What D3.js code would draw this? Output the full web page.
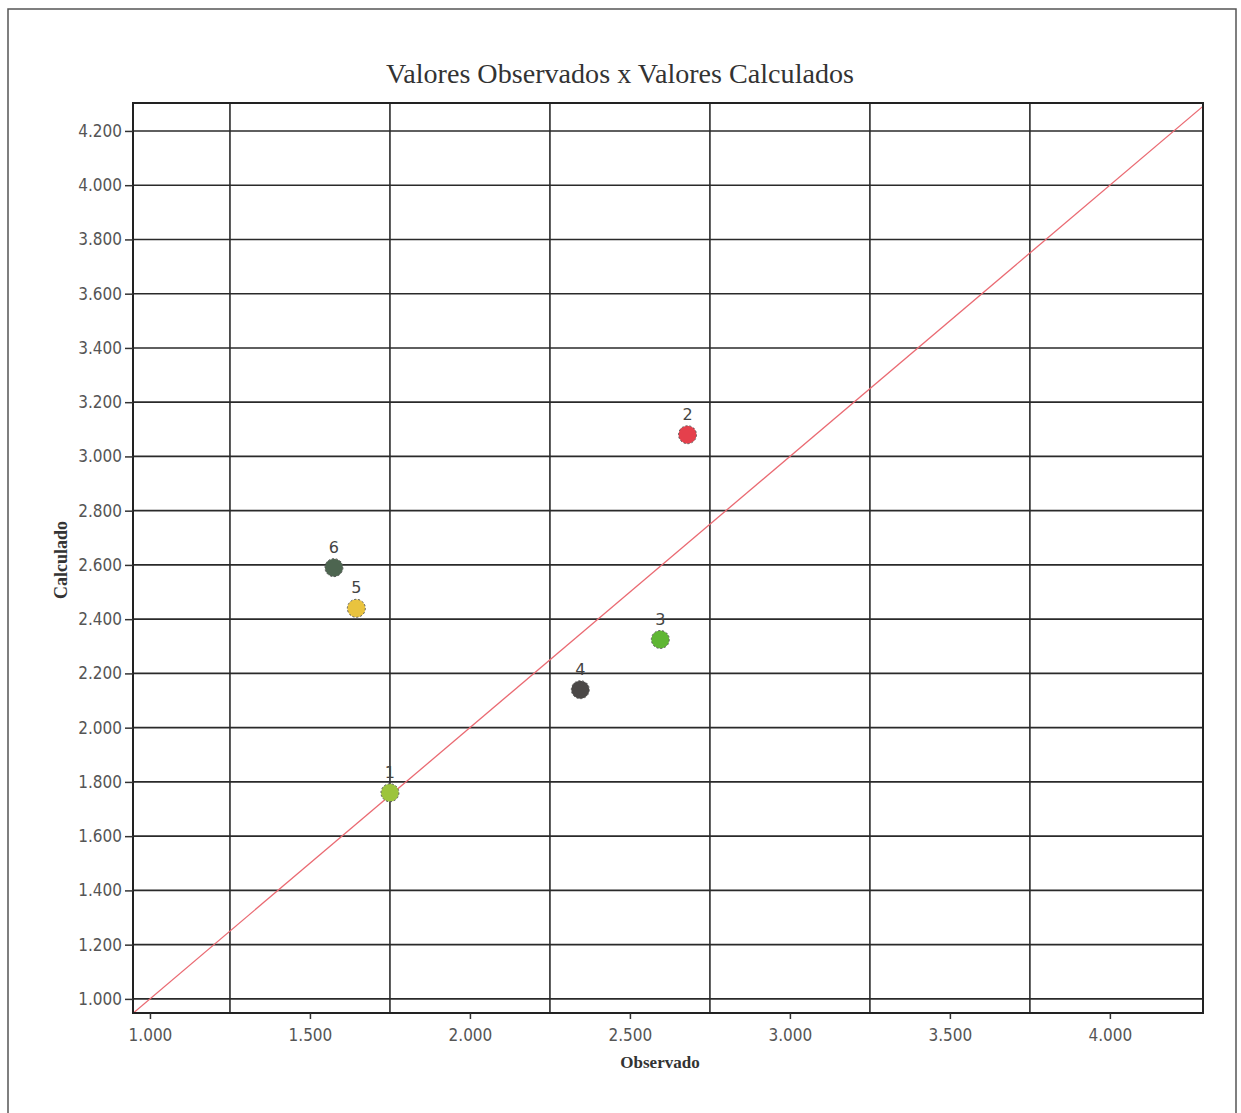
<!DOCTYPE html>
<html>
<head>
<meta charset="utf-8">
<script src="https://cdn.jsdelivr.net/npm/d3@7"></script>
<style>
  body { margin: 0; background: #fff; }
  svg { display: block; }
</style>
</head>
<body>
<svg id="chart" width="1241" height="1113"></svg>
<script>
// values
const pointIds = ['1', '2', '3', '4', '5', '6'];
const observado = [1750, 2680, 2595, 2345, 1645, 1575];
const calculado = [1760, 3080, 2325, 2140, 2440, 2590];
const pointColors = ['#9cc43c', '#e5404c', '#5fb634', '#4b4847', '#e9c33e', '#4d6550'];

const xTicks = [1000, 1500, 2000, 2500, 3000, 3500, 4000];
const xGrid = [1250, 1750, 2250, 2750, 3250, 3750];
const yTicks = [1000, 1200, 1400, 1600, 1800, 2000, 2200, 2400, 2600, 2800, 3000, 3200, 3400, 3600, 3800, 4000, 4200];

const svg = d3.select('#chart');
const plot = { left: 133, top: 103, right: 1203, bottom: 1013 };

// pt-BR numbers: 4.200
const ptBR = d3.formatLocale({ decimal: ',', thousands: '.', grouping: [3], currency: ['R$', ''] });
const fmt = ptBR.format(',d');

const x = d3.scaleLinear().domain([947, 4291]).range([plot.left, plot.right]);
const y = d3.scaleLinear().domain([948, 4303]).range([plot.bottom, plot.top]);

// outer frame
svg.append('rect')
  .attr('x', 8).attr('y', 9)
  .attr('width', 1228).attr('height', 1120)
  .attr('fill', 'none')
  .attr('stroke', '#555')
  .attr('stroke-width', 1.5);

// title (condensed, tall glyphs like the scan)
svg.append('text')
  .attr('x', 620).attr('y', 83)
  .attr('text-anchor', 'middle')
  .attr('font-family', 'Liberation Serif, serif')
  .attr('font-size', 27)
  .attr('fill', '#333')
  .attr('textLength', 468)
  .attr('lengthAdjust', 'spacingAndGlyphs')
  .text('Valores Observados x Valores Calculados');

// grid
const grid = svg.append('g').attr('stroke', '#2a2a2a').attr('stroke-width', 1.6);
grid.selectAll('line.h')
  .data(yTicks)
  .join('line')
    .attr('class', 'h')
    .attr('x1', plot.left).attr('x2', plot.right)
    .attr('y1', d => y(d)).attr('y2', d => y(d));
grid.selectAll('line.v')
  .data(xGrid)
  .join('line')
    .attr('class', 'v')
    .attr('y1', plot.top).attr('y2', plot.bottom)
    .attr('x1', d => x(d)).attr('x2', d => x(d));

// diagonal y = x, clipped to the plot
svg.append('clipPath').attr('id', 'clip')
  .append('rect')
    .attr('x', plot.left).attr('y', plot.top)
    .attr('width', plot.right - plot.left).attr('height', plot.bottom - plot.top);

svg.append('path')
  .attr('clip-path', 'url(#clip)')
  .attr('fill', 'none')
  .attr('stroke', '#ea6a72')
  .attr('stroke-width', 1.3)
  .attr('d', d3.line().x(d => x(d)).y(d => y(d))([900, 4400]));

// plot frame
svg.append('rect')
  .attr('x', plot.left).attr('y', plot.top)
  .attr('width', plot.right - plot.left).attr('height', plot.bottom - plot.top)
  .attr('fill', 'none')
  .attr('stroke', '#222')
  .attr('stroke-width', 2);

// axes
const yAxis = svg.append('g')
  .attr('transform', `translate(${plot.left},0)`)
  .call(d3.axisLeft(y).tickValues(yTicks).tickFormat(fmt).tickSize(8).tickPadding(3));
const xAxis = svg.append('g')
  .attr('transform', `translate(0,${plot.bottom})`)
  .call(d3.axisBottom(x).tickValues(xTicks).tickFormat(fmt).tickSize(6).tickPadding(10));

[yAxis, xAxis].forEach(ax => {
  ax.select('.domain').remove();
  ax.selectAll('line').attr('stroke', '#333').attr('stroke-width', 1.5);
  ax.selectAll('text')
    .attr('font-family', 'DejaVu Sans Condensed, DejaVu Sans, sans-serif')
    .attr('font-size', 17)
    .attr('fill', '#555');
});

// axis titles
svg.append('text')
  .attr('x', 660).attr('y', 1068)
  .attr('text-anchor', 'middle')
  .attr('font-family', 'Liberation Serif, serif')
  .attr('font-weight', 'bold')
  .attr('font-size', 17)
  .attr('fill', '#333')
  .text('Observado');

svg.append('text')
  .attr('transform', 'translate(67,560) rotate(-90)')
  .attr('text-anchor', 'middle')
  .attr('font-family', 'Liberation Serif, serif')
  .attr('font-weight', 'bold')
  .attr('font-size', 18)
  .attr('fill', '#333')
  .text('Calculado');

// points
const pts = pointIds.map((id, i) => ({ id, ox: observado[i], cy: calculado[i], color: pointColors[i] }));

const marks = svg.append('g');
marks.selectAll('circle')
  .data(pts)
  .join('circle')
    .attr('cx', d => x(d.ox))
    .attr('cy', d => y(d.cy))
    .attr('r', 9)
    .attr('fill', d => d.color)
    .attr('stroke', '#555')
    .attr('stroke-width', 1)
    .attr('stroke-dasharray', '2,2');

marks.selectAll('text')
  .data(pts)
  .join('text')
    .attr('x', d => x(d.ox))
    .attr('y', d => y(d.cy) - 15)
    .attr('text-anchor', 'middle')
    .attr('font-family', 'DejaVu Sans, sans-serif')
    .attr('font-size', 16)
    .attr('fill', '#444')
    .text(d => d.id);
</script>
</body>
</html>
